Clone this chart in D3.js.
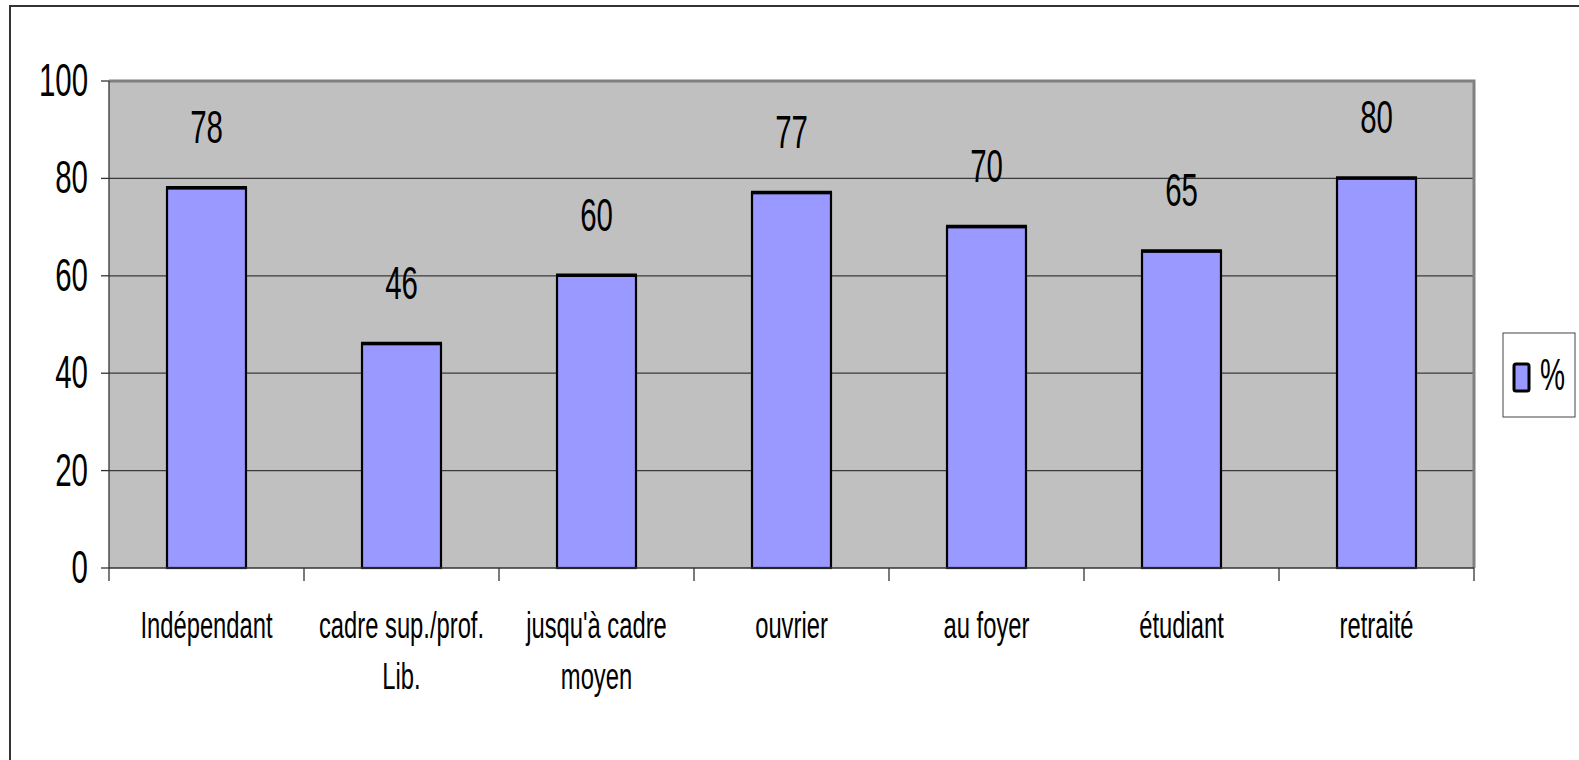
<!DOCTYPE html>
<html>
<head>
<meta charset="utf-8">
<script src="https://cdn.jsdelivr.net/npm/d3@7"></script>
<style>
  html, body { margin: 0; padding: 0; background: #fff; }
  svg { display: block; }
  text { font-family: "Liberation Sans", Arial, sans-serif; fill: #000; }
</style>
</head>
<body>
<svg id="chart" width="1579" height="760"></svg>
<script>
var CATEGORIES = ["Indépendant", "cadre sup./prof. Lib.", "jusqu'à cadre moyen", "ouvrier", "au foyer", "étudiant", "retraité"];
var CATEGORY_LINES = [["Indépendant"], ["cadre sup./prof.", "Lib."], ["jusqu'à cadre", "moyen"], ["ouvrier"], ["au foyer"], ["étudiant"], ["retraité"]];
var VALUES = [78, 46, 60, 77, 70, 65, 80];
var Y_TICKS = [0, 20, 40, 60, 80, 100];
var SERIES_NAME = "%";

var PLOT_LEFT = 109, PLOT_RIGHT = 1474, PLOT_TOP = 81, PLOT_BOTTOM = 568;
var SX = 0.64; // narrow look of the original font

var svg = d3.select("#chart");

// outer frame (only left and top visible)
svg.append("path")
	.attr("d", "M10,760 L10,6 L1579,6")
	.attr("fill", "none")
	.attr("stroke", "#333")
	.attr("stroke-width", 2);

var x = d3.scaleBand()
	.domain(CATEGORIES)
	.range([PLOT_LEFT, PLOT_RIGHT])
	.paddingInner(0.595)
	.paddingOuter(0.2975);

var y = d3.scaleLinear()
	.domain([0, 100])
	.range([PLOT_BOTTOM, PLOT_TOP]);

function narrowText(g, tx, ty, str, size, anchor, sx)
{
	return g.append("text")
		.attr("transform", "translate(" + tx + "," + ty + ") scale(" + (sx || SX) + ",1)")
		.attr("text-anchor", anchor || "middle")
		.style("font-size", size + "px")
		.text(str);
}

// plot background
svg.append("rect")
	.attr("x", PLOT_LEFT)
	.attr("y", PLOT_TOP)
	.attr("width", PLOT_RIGHT - PLOT_LEFT)
	.attr("height", PLOT_BOTTOM - PLOT_TOP)
	.style("fill", "#c0c0c0");

// gridlines
svg.append("g").selectAll("line")
	.data(Y_TICKS.filter(function(d) { return d > 0 && d < 100; }))
	.enter().append("line")
	.attr("x1", PLOT_LEFT)
	.attr("x2", PLOT_RIGHT)
	.attr("y1", function(d) { return y(d); })
	.attr("y2", function(d) { return y(d); })
	.style("stroke", "#3a3a3a")
	.style("stroke-width", 1.3);

// top and right border of plot area
svg.append("path")
	.attr("d", "M" + PLOT_LEFT + "," + PLOT_TOP + " L" + PLOT_RIGHT + "," + PLOT_TOP + " L" + PLOT_RIGHT + "," + PLOT_BOTTOM)
	.attr("fill", "none")
	.style("stroke", "#808080")
	.style("stroke-width", 3);

// bars
var barG = svg.append("g");
barG.selectAll("rect")
	.data(VALUES)
	.enter().append("rect")
	.attr("x", function(d, i) { return x(CATEGORIES[i]); })
	.attr("y", function(d) { return y(d); })
	.attr("width", x.bandwidth())
	.attr("height", function(d) { return y(0) - y(d); })
	.style("fill", "#9999ff")
	.style("stroke", "#000")
	.style("stroke-width", 2.2);
// heavier top edge, as in the original
barG.selectAll("line")
	.data(VALUES)
	.enter().append("line")
	.attr("x1", function(d, i) { return x(CATEGORIES[i]) - 1; })
	.attr("x2", function(d, i) { return x(CATEGORIES[i]) + x.bandwidth() + 1; })
	.attr("y1", function(d) { return y(d) - 0.5; })
	.attr("y2", function(d) { return y(d) - 0.5; })
	.style("stroke", "#000")
	.style("stroke-width", 3.5);

// value labels
var valG = svg.append("g");
VALUES.forEach(function(v, i) {
	narrowText(valG, x(CATEGORIES[i]) + x.bandwidth() / 2, y(v) - 45, "" + v, 46);
});

// y axis
svg.append("line")
	.attr("x1", PLOT_LEFT).attr("x2", PLOT_LEFT)
	.attr("y1", PLOT_TOP).attr("y2", PLOT_BOTTOM)
	.style("stroke", "#333").style("stroke-width", 1.3);
var yG = svg.append("g");
Y_TICKS.forEach(function(t) {
	yG.append("line")
		.attr("x1", PLOT_LEFT - 8).attr("x2", PLOT_LEFT)
		.attr("y1", y(t)).attr("y2", y(t))
		.style("stroke", "#333").style("stroke-width", 1.3);
	narrowText(yG, 88, y(t) + 15, "" + t, 46, "end");
});

// x axis
svg.append("line")
	.attr("x1", PLOT_LEFT).attr("x2", PLOT_RIGHT)
	.attr("y1", PLOT_BOTTOM).attr("y2", PLOT_BOTTOM)
	.style("stroke", "#333").style("stroke-width", 1.5);
var step = x.step();
var xG = svg.append("g");
d3.range(CATEGORIES.length + 1).forEach(function(i) {
	var px = PLOT_LEFT + i * step;
	xG.append("line")
		.attr("x1", px).attr("x2", px)
		.attr("y1", PLOT_BOTTOM).attr("y2", PLOT_BOTTOM + 13)
		.style("stroke", "#333").style("stroke-width", 1.3);
});
CATEGORY_LINES.forEach(function(lines, i) {
	var cx = x(CATEGORIES[i]) + x.bandwidth() / 2;
	lines.forEach(function(line, j) {
		narrowText(xG, cx, 638 + j * 51, line, 36, "middle", 0.66);
	});
});

// legend
var leg = svg.append("g");
leg.append("rect")
	.attr("x", 1503).attr("y", 333)
	.attr("width", 72).attr("height", 84)
	.style("fill", "#fff")
	.style("stroke", "#444")
	.style("stroke-width", 1);
leg.append("rect")
	.attr("x", 1514).attr("y", 364)
	.attr("width", 15).attr("height", 27)
	.attr("rx", 2)
	.style("fill", "#9999ff")
	.style("stroke", "#000")
	.style("stroke-width", 3);
narrowText(leg, 1540, 390, SERIES_NAME, 44, "start");
</script>
</body>
</html>
